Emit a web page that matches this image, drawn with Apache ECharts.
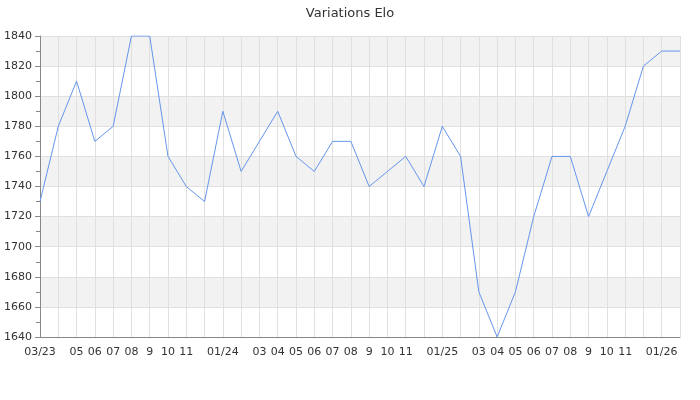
<!DOCTYPE html>
<html><head><meta charset="utf-8">
<script src="https://cdn.jsdelivr.net/npm/echarts@6/dist/echarts.min.js"></script>
<style>html,body{margin:0;padding:0;background:#fff}#c{width:700px;height:400px}</style>
</head><body><div id="c"></div>
<script>
const months = ["03/23","04","05","06","07","08","9","10","11","12","01/24","02","03","04","05","06","07","08","9","10","11","12","01/25","02","03","04","05","06","07","08","9","10","11","12","01/26","02"];
const shownLabels = ["03/23","","05","06","07","08","9","10","11","","01/24","","03","04","05","06","07","08","9","10","11","","01/25","","03","04","05","06","07","08","9","10","11","","01/26",""];
const elo = [1730,1780,1810,1770,1780,1840,1840,1760,1740,1730,1790,1750,1770,1790,1760,1750,1770,1770,1740,1750,1760,1740,1780,1760,1670,1640,1670,1720,1760,1760,1720,1750,1780,1820,1830,1830];
const yTicks = {min:1640, max:1840, interval:20};

const chart = echarts.init(document.getElementById('c'), null, {renderer:'canvas'});
chart.setOption({
  animation:false,
  textStyle:{fontFamily:'DejaVu Sans'},
  title:{text:'Variations Elo', left:'center', top:2, textStyle:{fontFamily:'DejaVu Sans', fontSize:13, fontWeight:'normal', color:'#333'}},
  grid:{left:40, right:20, top:36, bottom:63, containLabel:false},
  xAxis:{
    type:'category', data:months, boundaryGap:false,
    axisLine:{show:true, lineStyle:{color:'#888'}},
    axisTick:{show:false},
    axisLabel:{interval:0, color:'#333', fontSize:11, margin:10, formatter:(v,i)=>shownLabels[i]},
    splitLine:{show:true, lineStyle:{color:'#e0e0e0', width:1}}
  },
  yAxis:{
    type:'value', min:yTicks.min, max:yTicks.max, interval:yTicks.interval,
    axisLine:{show:true, lineStyle:{color:'#888'}},
    axisTick:{show:true, length:5, lineStyle:{color:'#888'}},
    minorTick:{show:true, splitNumber:2, length:4, lineStyle:{color:'#888'}},
    axisLabel:{color:'#333', fontSize:11, margin:8, formatter:v=>String(v)},
    splitLine:{show:true, lineStyle:{color:'#e0e0e0', width:1}},
    splitArea:{show:true, areaStyle:{color:['#ffffff','#f2f2f2']}}
  },
  series:[{
    type:'line', data:elo, showSymbol:false, symbol:'none',
    lineStyle:{color:'#6495ed', width:1}
  }]
});
</script></body></html>
